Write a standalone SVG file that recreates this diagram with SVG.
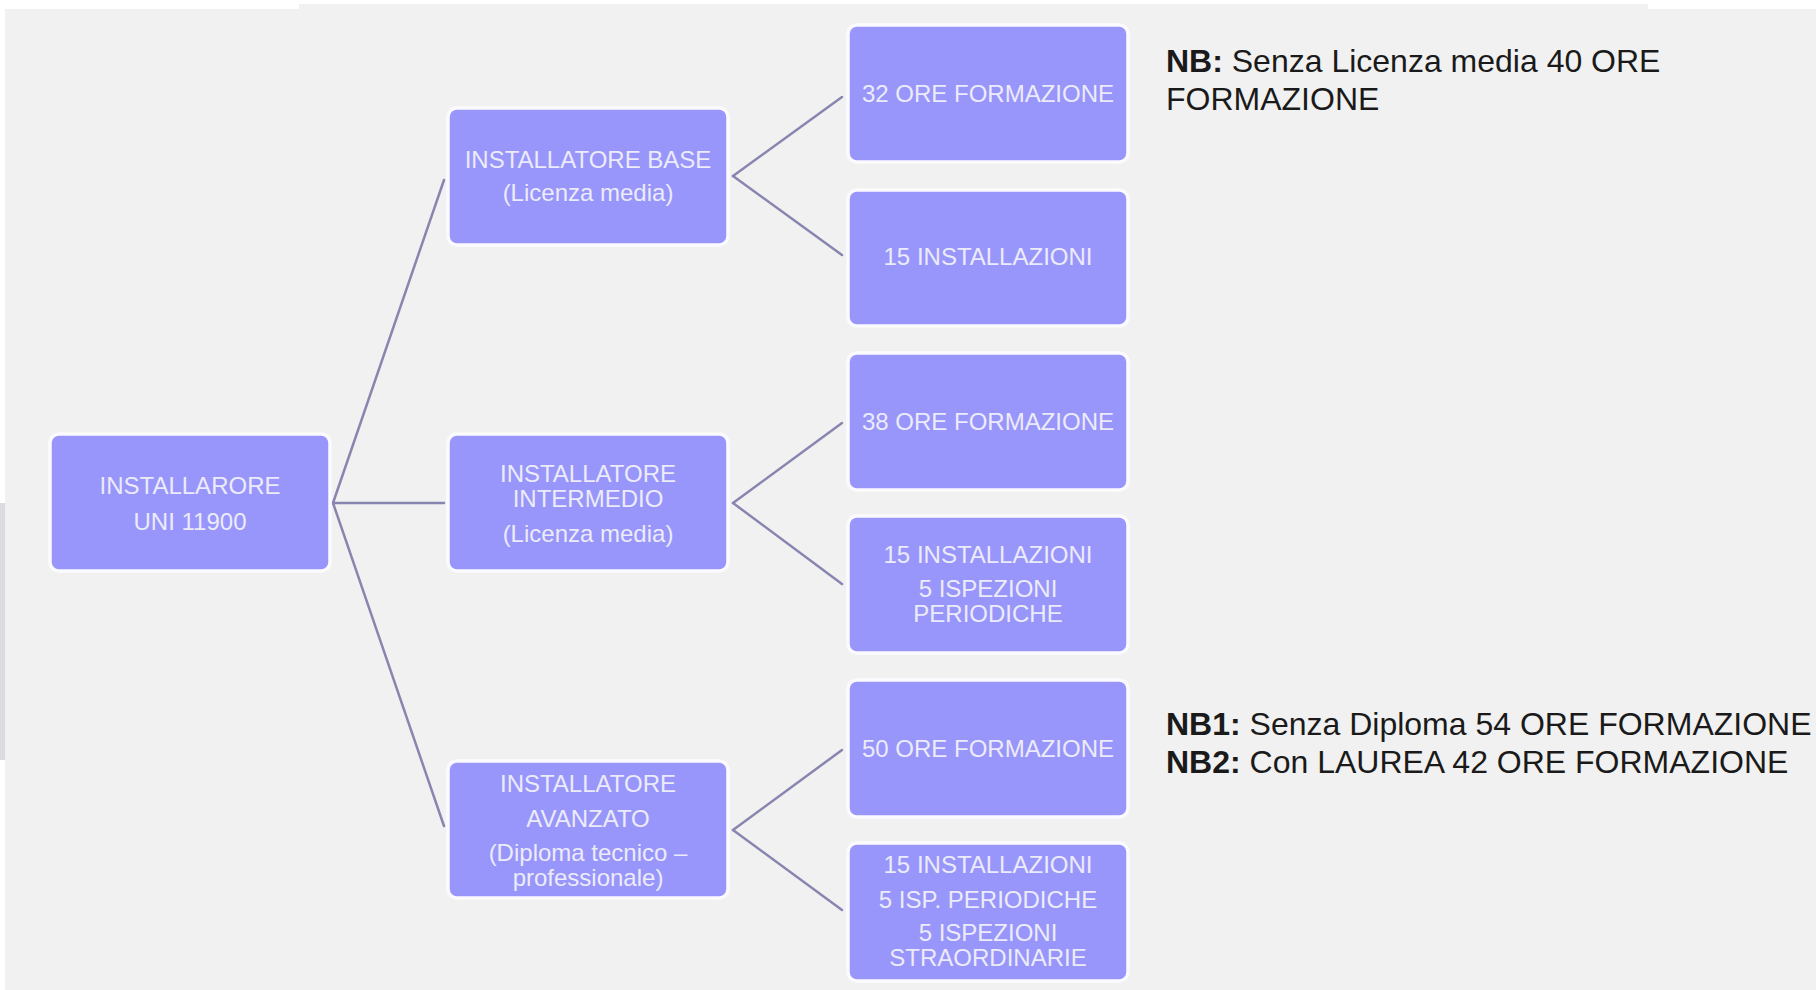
<svg xmlns="http://www.w3.org/2000/svg" width="1816" height="990" viewBox="0 0 1816 990">
<style>
.box{fill:#9896fa;stroke:#fbfbff;stroke-width:3.5}
.t{font-family:"Liberation Sans",Arial,sans-serif;font-size:24px;fill:#ecebf9;text-anchor:middle}
.n{font-family:"Liberation Sans",Arial,sans-serif;font-size:32px;fill:#1a1a1a}
.b{font-weight:bold}
.c{stroke:#8886b0;stroke-width:2.5;fill:none;stroke-linecap:round}
</style>
<rect x="0" y="0" width="1816" height="990" fill="#ffffff"/>
<rect x="5" y="9" width="1811" height="981" fill="#f1f1f1"/>
<rect x="299" y="4" width="1349" height="6" fill="#f1f1f1"/>
<rect x="0" y="503" width="5" height="257" fill="#dcdbe0"/>
<g id="connectors">
<line class="c" x1="333" y1="503" x2="444" y2="180"/>
<line class="c" x1="333" y1="503" x2="444" y2="503"/>
<line class="c" x1="333" y1="503" x2="444" y2="826"/>
<line class="c" x1="733" y1="176" x2="842" y2="97"/>
<line class="c" x1="733" y1="176" x2="842" y2="255"/>
<line class="c" x1="733" y1="503" x2="842" y2="423"/>
<line class="c" x1="733" y1="503" x2="842" y2="584"/>
<line class="c" x1="733" y1="830" x2="842" y2="750"/>
<line class="c" x1="733" y1="830" x2="842" y2="910"/>
</g>
<g id="root">
<rect class="box" x="50" y="434" width="280" height="137" rx="9"/>
<text class="t" x="190" y="494">INSTALLARORE</text>
<text class="t" x="190" y="530">UNI 11900</text>
</g>
<g id="base">
<rect class="box" x="448" y="108" width="280" height="137" rx="9"/>
<text class="t" x="588" y="168">INSTALLATORE BASE</text>
<text class="t" x="588" y="201">(Licenza media)</text>
</g>
<g id="intermedio">
<rect class="box" x="448" y="434" width="280" height="137" rx="9"/>
<text class="t" x="588" y="482">INSTALLATORE</text>
<text class="t" x="588" y="507">INTERMEDIO</text>
<text class="t" x="588" y="542">(Licenza media)</text>
</g>
<g id="avanzato">
<rect class="box" x="448" y="761" width="280" height="137" rx="9"/>
<text class="t" x="588" y="792">INSTALLATORE</text>
<text class="t" x="588" y="827">AVANZATO</text>
<text class="t" x="588" y="861">(Diploma tecnico –</text>
<text class="t" x="588" y="886">professionale)</text>
</g>
<g id="ore32">
<rect class="box" x="848" y="25" width="280" height="137" rx="9"/>
<text class="t" x="988" y="102">32 ORE FORMAZIONE</text>
</g>
<g id="inst15a">
<rect class="box" x="848" y="190" width="280" height="136" rx="9"/>
<text class="t" x="988" y="265">15 INSTALLAZIONI</text>
</g>
<g id="ore38">
<rect class="box" x="848" y="353" width="280" height="137" rx="9"/>
<text class="t" x="988" y="430">38 ORE FORMAZIONE</text>
</g>
<g id="inst15b">
<rect class="box" x="848" y="516" width="280" height="137" rx="9"/>
<text class="t" x="988" y="563">15 INSTALLAZIONI</text>
<text class="t" x="988" y="597">5 ISPEZIONI</text>
<text class="t" x="988" y="622">PERIODICHE</text>
</g>
<g id="ore50">
<rect class="box" x="848" y="680" width="280" height="137" rx="9"/>
<text class="t" x="988" y="757">50 ORE FORMAZIONE</text>
</g>
<g id="inst15c">
<rect class="box" x="848" y="843" width="280" height="138" rx="9"/>
<text class="t" x="988" y="873">15 INSTALLAZIONI</text>
<text class="t" x="988" y="908">5 ISP. PERIODICHE</text>
<text class="t" x="988" y="941">5 ISPEZIONI</text>
<text class="t" x="988" y="966">STRAORDINARIE</text>
</g>
<g id="note1">
<text class="n" x="1166" y="72"><tspan class="b">NB:</tspan> Senza Licenza media 40 ORE</text>
<text class="n" x="1166" y="110">FORMAZIONE</text>
</g>
<g id="note2">
<text class="n" x="1166" y="735"><tspan class="b">NB1:</tspan> Senza Diploma 54 ORE FORMAZIONE</text>
<text class="n" x="1166" y="773"><tspan class="b">NB2:</tspan> Con LAUREA 42 ORE FORMAZIONE</text>
</g>
</svg>
